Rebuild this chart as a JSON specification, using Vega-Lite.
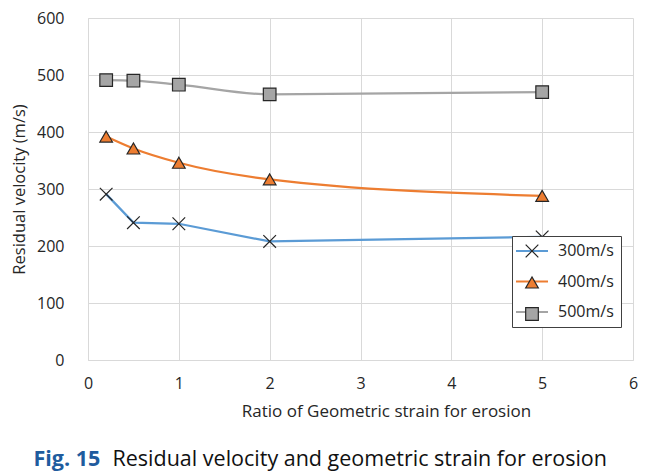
{
  "$schema": "https://vega.github.io/schema/vega-lite/v6.json",
  "width": 545,
  "height": 342,
  "autosize": "none",
  "padding": {"left": 88, "top": 18, "right": 24, "bottom": 114},
  "background": "white",
  "config": {
    "view": {"stroke": null},
    "font": "Open Sans"
  },
  "data": {
    "values": [
      {"ratio": 0.2, "v": 291, "series": "300m/s"},
      {"ratio": 0.5, "v": 241, "series": "300m/s"},
      {"ratio": 1, "v": 239, "series": "300m/s"},
      {"ratio": 2, "v": 208, "series": "300m/s"},
      {"ratio": 5, "v": 216, "series": "300m/s"},
      {"ratio": 0.2, "v": 392, "series": "400m/s"},
      {"ratio": 0.5, "v": 371, "series": "400m/s"},
      {"ratio": 1, "v": 346, "series": "400m/s"},
      {"ratio": 2, "v": 317, "series": "400m/s"},
      {"ratio": 5, "v": 288, "series": "400m/s"},
      {"ratio": 0.2, "v": 491, "series": "500m/s"},
      {"ratio": 0.5, "v": 490, "series": "500m/s"},
      {"ratio": 1, "v": 483, "series": "500m/s"},
      {"ratio": 2, "v": 466, "series": "500m/s"},
      {"ratio": 5, "v": 470, "series": "500m/s"}
    ]
  },
  "layer": [
    {
      "encoding": {
        "x": {
          "field": "ratio", "type": "quantitative",
          "scale": {"domain": [0, 6], "nice": false},
          "axis": {
            "values": [0, 1, 2, 3, 4, 5, 6], "format": "d", "labelFlush": false,
            "grid": true, "gridColor": "#D9D9D9", "gridWidth": 1,
            "domainColor": "#D9D9D9", "ticks": false,
            "labelFont": "Open Sans", "labelFontSize": 16, "labelColor": "#262626", "labelPadding": 15,
            "title": "Ratio of Geometric strain for erosion",
            "titleFont": "Open Sans", "titleFontSize": 17, "titleFontWeight": "normal", "titleColor": "#262626",
            "titleX": 298, "titleY": 56, "titleAlign": "center", "titleBaseline": "alphabetic", "titleAnchor": null
          }
        },
        "y": {
          "field": "v", "type": "quantitative",
          "scale": {"domain": [0, 600], "nice": false},
          "axis": {
            "values": [0, 100, 200, 300, 400, 500, 600], "format": "d",
            "grid": true, "gridColor": "#D9D9D9", "gridWidth": 1,
            "domainColor": "#D9D9D9", "ticks": false,
            "labelFont": "Open Sans", "labelFontSize": 16, "labelColor": "#262626", "labelPadding": 24,
            "title": "Residual velocity (m/s)",
            "titleFont": "Open Sans", "titleFontSize": 16.5, "titleFontWeight": "normal", "titleColor": "#262626",
            "titleX": -69, "titleY": 171, "titleAngle": -90, "titleAlign": "center", "titleBaseline": "middle", "titleAnchor": null
          }
        },
        "color": {
          "field": "series", "type": "nominal",
          "scale": {"range": ["#5B9BD5", "#ED7D31", "#A5A5A5"]},
          "legend": {
            "title": null, "orient": "none", "legendX": 424, "legendY": 218,
            "symbolType": "M-2.46,0H2.46", "symbolSize": 169, "symbolStrokeWidth": 2,
            "symbolOffset": 5, "padding": 7, "rowPadding": 14.5, "labelOffset": 18,
            "labelFont": "Open Sans", "labelFontSize": 16, "labelColor": "#262626",
            "fillColor": "white", "strokeColor": "#404040"
          }
        }
      },
      "layer": [
        {
          "transform": [{"filter": "datum.series === '300m/s'"}],
          "mark": {"type": "line", "interpolate": "linear", "strokeWidth": 2.25}
        },
        {
          "transform": [{"filter": "datum.series !== '300m/s'"}],
          "mark": {"type": "line", "interpolate": "monotone", "strokeWidth": 2.25}
        },
        {
          "mark": {"type": "point", "filled": true, "size": 160, "stroke": "#262626", "strokeWidth": 1.2, "opacity": 1},
          "encoding": {
            "color": {"value": null},
            "shape": {
              "field": "series", "type": "nominal",
              "scale": {"domain": ["300m/s", "400m/s", "500m/s"], "range": ["M-1,-1L1,1M-1,1L1,-1", "triangle-up", "square"]},
              "legend": {
                "title": null, "orient": "none", "legendX": 424, "legendY": 218, "zindex": 2,
                "symbolSize": 160, "symbolStrokeWidth": 1.2, "symbolOffset": 5,
                "padding": 7, "rowPadding": 14.5, "labelOffset": 18,
                "labelFont": "Open Sans", "labelFontSize": 16, "labelColor": "transparent", "labelExpr": "''"
              }
            },
            "fill": {
              "field": "series", "type": "nominal",
              "scale": {"domain": ["300m/s", "400m/s", "500m/s"], "range": ["transparent", "#ED7D31", "#A5A5A5"]},
              "legend": {
                "title": null, "orient": "none", "legendX": 424, "legendY": 218, "zindex": 2,
                "symbolSize": 160, "symbolStrokeWidth": 1.2, "symbolOffset": 5,
                "padding": 7, "rowPadding": 14.5, "labelOffset": 18,
                "labelFont": "Open Sans", "labelFontSize": 16, "labelColor": "transparent", "labelExpr": "''"
              }
            }
          }
        }
      ]
    },
    {
      "mark": {"type": "point", "opacity": 0},
      "encoding": {
        "x": {
          "field": "ratio", "type": "quantitative",
          "scale": {"domain": [0, 6], "nice": false},
          "axis": {
            "orient": "bottom", "labels": false, "ticks": false, "domain": false, "grid": false,
            "title": "Residual velocity and geometric strain for erosion",
            "titleFont": "Open Sans", "titleFontSize": 21.5, "titleFontWeight": "normal", "titleColor": "#111111",
            "titleX": 24, "titleY": 105, "titleAlign": "left", "titleBaseline": "alphabetic", "titleAnchor": null
          }
        },
        "y": {
          "field": "v", "type": "quantitative",
          "scale": {"domain": [0, 600], "nice": false},
          "axis": {
            "orient": "left", "labels": false, "ticks": false, "domain": false, "grid": false,
            "title": "Fig. 15",
            "titleFont": "Open Sans", "titleFontSize": 21.5, "titleFontWeight": "bold", "titleColor": "#1F5C9E",
            "titleX": -55, "titleY": 447, "titleAngle": 0, "titleAlign": "left", "titleBaseline": "alphabetic", "titleAnchor": null
          }
        }
      }
    }
  ],
  "resolve": {"scale": {"x": "independent", "y": "independent"}}
}
